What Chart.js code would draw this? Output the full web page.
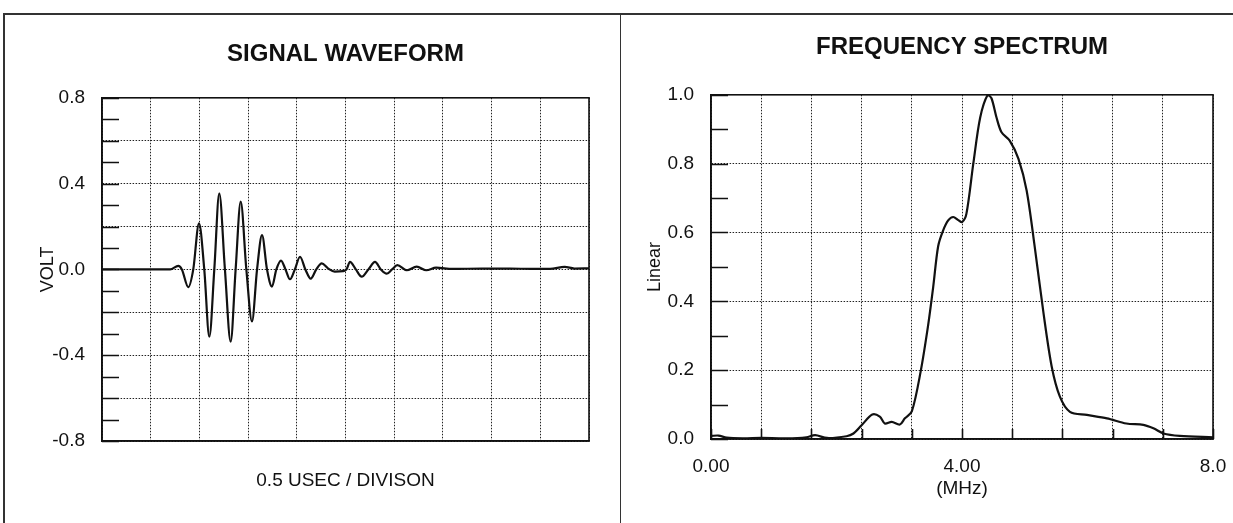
<!DOCTYPE html>
<html>
<head>
<meta charset="utf-8">
<title>Signal waveform / Frequency spectrum</title>
<script src="https://cdn.jsdelivr.net/npm/chart.js"></script>
<style>
    body { margin: 0; background: #fff; }
    #hoja { position: relative; width: 1233px; height: 523px; overflow: hidden; }
    canvas { position: absolute; top: 0; }
    #graficoSenal { left: 0; }
    #graficoEspectro { left: 621px; }
    .linea { position: absolute; background: #333; }
</style>
</head>
<body>
<div id="hoja">
    <canvas id="graficoSenal" width="620" height="523"></canvas>
    <canvas id="graficoEspectro" width="612" height="523"></canvas>
    <div class="linea" style="left:3px; top:13px; width:1230px; height:2px;"></div>
    <div class="linea" style="left:3px; top:13px; width:2px; height:510px;"></div>
    <div class="linea" style="left:620px; top:13px; width:1px; height:510px;"></div>
</div>
<script>
// Forma de onda (tiempo en usec, tension en volt)
const tiempoUsec = [0, 0.70, 0.783, 0.82, 0.886, 0.937, 0.996, 1.05, 1.102, 1.153, 1.204, 1.262, 1.321, 1.372, 1.424, 1.482,
    1.540, 1.592, 1.643, 1.694, 1.745, 1.79, 1.838, 1.884, 1.930, 1.98, 2.033, 2.088, 2.143, 2.20, 2.256, 2.32, 2.39, 2.474,
    2.51, 2.546, 2.606, 2.666, 2.735, 2.803, 2.863, 2.923, 2.978, 3.032, 3.128, 3.231, 3.33, 3.43, 3.60, 3.90, 4.30, 4.60,
    4.75, 4.85, 5.0];
const tensionVolt = [0, 0, 0.016, 0, -0.083, 0, 0.215, 0, -0.314, 0, 0.354, 0, -0.337, 0, 0.316, 0,
    -0.243, 0, 0.16, 0, -0.08, 0, 0.041, 0, -0.046, 0, 0.059, 0, -0.043, 0, 0.028, 0.005, -0.01, -0.008,
    0, 0.035, 0, -0.034, 0, 0.035, 0, -0.02, 0, 0.02, -0.004, 0.013, -0.004, 0.008, 0.002, 0.004, 0.003, 0.002,
    0.012, 0.004, 0.005];

// Espectro (frecuencia en MHz, amplitud lineal)
const frecuenciaMHz = [0, 0.12, 0.25, 0.5, 0.8, 1.2, 1.52, 1.66, 1.85, 2.16, 2.27, 2.40, 2.57, 2.69, 2.77, 2.88, 3.01, 3.09,
    3.2, 3.34, 3.46, 3.54, 3.62, 3.70, 3.78, 3.86, 3.94, 4.0, 4.07, 4.18, 4.29, 4.41, 4.47, 4.55, 4.63, 4.76, 4.90, 5.03,
    5.16, 5.30, 5.43, 5.56, 5.72, 5.99, 6.31, 6.62, 6.89, 7.05, 7.21, 7.47, 8.0];
const amplitud = [0.009, 0.01, 0.004, 0.002, 0.003, 0.002, 0.005, 0.011, 0.003, 0.008, 0.016, 0.04, 0.071, 0.065, 0.045, 0.05, 0.042, 0.06,
    0.08, 0.195, 0.33, 0.44, 0.56, 0.606, 0.635, 0.645, 0.636, 0.63, 0.654, 0.80, 0.934, 1.0, 0.99, 0.934, 0.891, 0.867, 0.814, 0.722,
    0.557, 0.364, 0.21, 0.123, 0.079, 0.07, 0.06, 0.045, 0.041, 0.031, 0.016, 0.009, 0.005];

// Etiquetas de los ejes
const etiquetasVolt = [-0.8, -0.4, 0.0, 0.4, 0.8];
const etiquetasLinear = [0.0, 0.2, 0.4, 0.6, 0.8, 1.0];
const etiquetasMHz = { 0: "0.00", 4: "4.00", 8: "8.0" };

Chart.defaults.font.family = "'Liberation Sans', Arial, sans-serif";
Chart.defaults.color = "#111";

// marco del area de dibujo + marcas cortas hacia adentro
const marcoPlugin = {
    id: "marco",
    afterDraw(chart, args, opts) {
        const { ctx, chartArea } = chart;
        const { left, right, top, bottom } = chartArea;
        ctx.save();
        ctx.strokeStyle = "#111";
        ctx.lineWidth = 1.6;
        ctx.strokeRect(left, top, right - left, bottom - top);
        ctx.beginPath();
        const y = chart.scales.y;
        y.ticks.forEach((t) => {
            const py = Math.round(y.getPixelForValue(t.value)) + 0.5;
            ctx.moveTo(left, py);
            ctx.lineTo(left + opts.largoY, py);
        });
        if (opts.largoX) {
            const x = chart.scales.x;
            x.ticks.forEach((t) => {
                const px = Math.round(x.getPixelForValue(t.value)) + 0.5;
                ctx.moveTo(px, bottom);
                ctx.lineTo(px, bottom - opts.largoX);
            });
        }
        ctx.stroke();
        ctx.restore();
    }
};

function esPar(valor) {
    return Math.abs(Math.round(valor * 10)) % 2 === 0;
}

function grillaPunteada(extra) {
    return Object.assign({
        grid: { color: "#222", lineWidth: 1, drawTicks: false },
        border: { display: true, color: "#111", width: 1.6, dash: [1.5, 1.5] }
    }, extra);
}

function renderGraficoSenal() {
    const puntos = tiempoUsec.map((t, i) => ({ x: t, y: tensionVolt[i] }));

    new Chart(document.getElementById("graficoSenal"), {
        type: "line",
        data: {
            datasets: [{
                data: puntos,
                borderColor: "#111",
                borderWidth: 2.2,
                pointRadius: 0,
                cubicInterpolationMode: "monotone"
            }]
        },
        plugins: [marcoPlugin],
        options: {
            responsive: false,
            animation: false,
            layout: { padding: { left: 0, right: 31, top: 0, bottom: 0 } },
            plugins: {
                legend: { display: false },
                tooltip: { enabled: false },
                title: {
                    display: true,
                    text: "SIGNAL WAVEFORM",
                    fullSize: false,
                    font: { size: 24, weight: "bold" },
                    padding: { top: 40, bottom: 29 }
                },
                marco: { largoY: 17 }
            },
            scales: {
                x: grillaPunteada({
                    type: "linear",
                    min: 0,
                    max: 5,
                    ticks: { stepSize: 0.5, display: false },
                    title: { display: true, text: "0.5 USEC / DIVISON", font: { size: 19 }, padding: { bottom: 31 } },
                    afterFit: (s) => { s.height = 82; }
                }),
                y: grillaPunteada({
                    min: -0.8,
                    max: 0.8,
                    grid: {
                        drawTicks: false,
                        lineWidth: 1,
                        color: (c) => esPar(c.tick.value) ? "#222" : "rgba(0,0,0,0)"
                    },
                    ticks: {
                        stepSize: 0.1,
                        maxTicksLimit: 100,
                        autoSkip: false,
                        padding: 17,
                        font: { size: 19 },
                        callback: (v) => {
                            const e = etiquetasVolt.find((l) => Math.abs(l - v) < 1e-6);
                            return e === undefined ? "" : e.toFixed(1);
                        }
                    },
                    title: { display: true, text: "VOLT", font: { size: 18 }, padding: { top: 37 } },
                    afterFit: (s) => { s.width = 102; }
                })
            }
        }
    });
}

function renderGraficoEspectro() {
    const puntos = frecuenciaMHz.map((f, i) => ({ x: f, y: amplitud[i] }));

    new Chart(document.getElementById("graficoEspectro"), {
        type: "line",
        data: {
            datasets: [{
                data: puntos,
                borderColor: "#111",
                borderWidth: 2.2,
                pointRadius: 0,
                tension: 0.3
            }]
        },
        plugins: [marcoPlugin],
        options: {
            responsive: false,
            animation: false,
            layout: { padding: { left: 0, right: 20, top: 0, bottom: 0 } },
            plugins: {
                legend: { display: false },
                tooltip: { enabled: false },
                title: {
                    display: true,
                    text: "FREQUENCY SPECTRUM",
                    fullSize: false,
                    font: { size: 24, weight: "bold" },
                    padding: { top: 33, bottom: 33 }
                },
                marco: { largoY: 17, largoX: 10 }
            },
            scales: {
                x: grillaPunteada({
                    type: "linear",
                    min: 0,
                    max: 8,
                    grid: { color: "#222", lineWidth: 1, drawTicks: true, tickLength: 16, tickColor: "rgba(0,0,0,0)" },
                    ticks: {
                        stepSize: 0.8,
                        maxTicksLimit: 100,
                        autoSkip: false,
                        maxRotation: 0,
                        padding: 0,
                        font: { size: 19 },
                        callback: (v) => {
                            const k = Object.keys(etiquetasMHz).find((l) => Math.abs(l - v) < 1e-6);
                            return k === undefined ? "" : etiquetasMHz[k];
                        }
                    },
                    title: { display: true, text: "(MHz)", font: { size: 19 }, padding: { bottom: 23 } },
                    afterFit: (s) => { s.height = 84; }
                }),
                y: grillaPunteada({
                    min: 0,
                    max: 1,
                    grid: {
                        drawTicks: false,
                        lineWidth: 1,
                        color: (c) => esPar(c.tick.value) ? "#222" : "rgba(0,0,0,0)"
                    },
                    ticks: {
                        stepSize: 0.1,
                        maxTicksLimit: 100,
                        autoSkip: false,
                        padding: 17,
                        font: { size: 19 },
                        callback: (v) => {
                            const e = etiquetasLinear.find((l) => Math.abs(l - v) < 1e-6);
                            return e === undefined ? "" : e.toFixed(1);
                        }
                    },
                    title: { display: true, text: "Linear", font: { size: 18 }, padding: { top: 23 } },
                    afterFit: (s) => { s.width = 90; }
                })
            }
        }
    });
}

renderGraficoSenal();
renderGraficoEspectro();
</script>
</body>
</html>
